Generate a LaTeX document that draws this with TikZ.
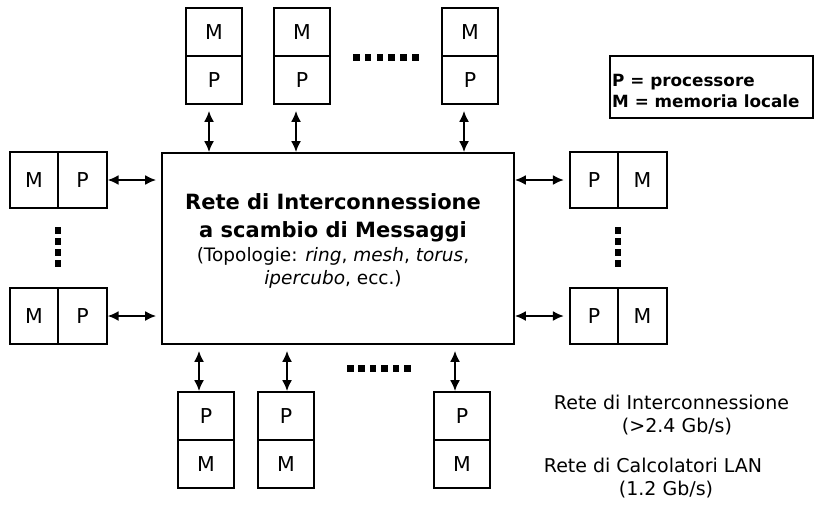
\documentclass[tikz,border=0pt]{standalone}
\usepackage{fontspec}
\setmainfont{DejaVu Sans}
\usetikzlibrary{arrows.meta}
\begin{document}
\begin{tikzpicture}[x=1pt,y=-1pt,
  cell/.style={draw, line width=1.8pt, minimum width=56pt, minimum height=48pt, inner sep=0pt, font=\fontsize{20.5}{24}\selectfont},
  hcell/.style={draw, line width=1.8pt, minimum width=48.5pt, minimum height=56pt, inner sep=0pt, font=\fontsize{20.5}{24}\selectfont},
  link/.style={{Latex[length=11pt,width=10pt]}-{Latex[length=11pt,width=10pt]}, line width=1.8pt},
  note/.style={font=\fontsize{19}{23}\selectfont, inner sep=0pt}
]
\useasboundingbox (0,0) rectangle (818,519);

% main network box
\node[draw, line width=1.8pt, minimum width=352pt, minimum height=191pt, inner sep=0pt] (net) at (338,248.5) {};
\node[align=center, inner sep=0pt, font=\fontsize{18.5}{28}\selectfont] (nettext) at (333,241)
 {\bfseries\fontsize{21}{28}\selectfont Rete di Interconnessione\\
  \bfseries\fontsize{21}{28}\selectfont a scambio di Messaggi\\[-4pt]
  (Topologie: \textit{ring}, \textit{mesh}, \textit{torus},\\[-5pt]
  \textit{ipercubo}, ecc.)};

% top boxes
\node[cell] (t1m) at (214,32) {M};
\node[cell] (t1p) at (214,80) {P};
\node[cell] (t2m) at (302,32) {M};
\node[cell] (t2p) at (302,80) {P};
\node[cell] (t3m) at (470,32) {M};
\node[cell] (t3p) at (470,80) {P};

% bottom boxes
\node[cell] (b1p) at (206,416) {P};
\node[cell] (b1m) at (206,464) {M};
\node[cell] (b2p) at (286,416) {P};
\node[cell] (b2m) at (286,464) {M};
\node[cell] (b3p) at (462,416) {P};
\node[cell] (b3m) at (462,464) {M};

% left boxes
\node[hcell] (l1m) at (34,180) {M};
\node[hcell] (l1p) at (82.5,180) {P};
\node[hcell] (l2m) at (34,316) {M};
\node[hcell] (l2p) at (82.5,316) {P};

% right boxes
\node[hcell] (r1p) at (594,180) {P};
\node[hcell] (r1m) at (642.5,180) {M};
\node[hcell] (r2p) at (594,316) {P};
\node[hcell] (r2m) at (642.5,316) {M};

% links
\draw[link, shorten <=6pt] ([xshift=-5pt]t1p.south) -- ([xshift=-5pt]t1p.south |- net.north);
\draw[link, shorten <=6pt] ([xshift=-6pt]t2p.south) -- ([xshift=-6pt]t2p.south |- net.north);
\draw[link, shorten <=6pt] ([xshift=-6pt]t3p.south) -- ([xshift=-6pt]t3p.south |- net.north);
\draw[link, shorten <=6pt] ([xshift=-7pt]b1p.north |- net.south) -- ([xshift=-7pt]b1p.north);
\draw[link, shorten <=6pt] ([xshift=1pt]b2p.north |- net.south) -- ([xshift=1pt]b2p.north);
\draw[link, shorten <=6pt] ([xshift=-7pt]b3p.north |- net.south) -- ([xshift=-7pt]b3p.north);
\draw[link, shorten >=5pt] (l1p.east) -- (l1p.east -| net.west);
\draw[link, shorten >=5pt] (l2p.east) -- (l2p.east -| net.west);
\draw[link, shorten >=5pt] (r1p.west -| net.east) -- (r1p.west);
\draw[link, shorten >=5pt] (r2p.west -| net.east) -- (r2p.west);

% ellipsis dots
\foreach \i in {0,...,5} \fill (353+\i*11.8,54) rectangle ++(6.5,6.5);
\foreach \i in {0,...,5} \fill (347+\i*11.4,365) rectangle ++(6.5,6.5);
\foreach \i in {0,...,3} \fill (54.8,227+\i*11) rectangle ++(6.5,6.5);
\foreach \i in {0,...,3} \fill (614.8,227+\i*11) rectangle ++(6.5,6.5);

% legend
\node[draw, line width=1.8pt, minimum width=203pt, minimum height=62pt, inner sep=0pt] (legend) at (711.5,87) {};
\node[anchor=west, align=left, inner sep=0pt, font=\bfseries\fontsize{16.8}{21}\selectfont] (legtext) at (612,91)
 {P = processore\\M = memoria locale};

% notes
\node[note] (n1) at (671.5,402) {Rete di Interconnessione};
\node[note] (n2) at (677,427) {(>2.4 Gb/s)};
\node[note] (n3) at (653,465) {Rete di Calcolatori LAN};
\node[note] (n4) at (666,490) {(1.2 Gb/s)};
\end{tikzpicture}
\end{document}
